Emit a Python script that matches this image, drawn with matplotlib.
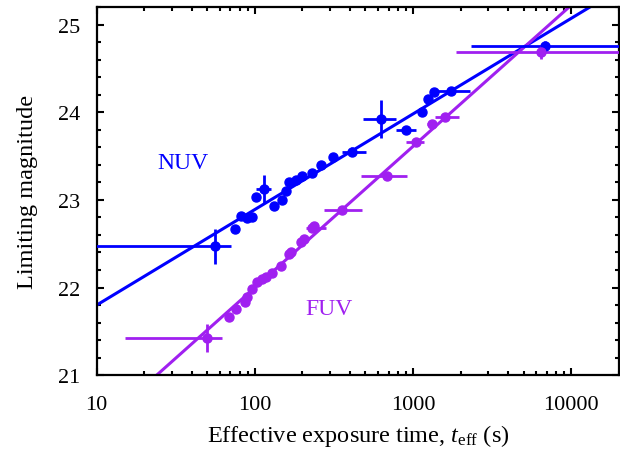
import numpy as np
import matplotlib
matplotlib.use("Agg")
import matplotlib.pyplot as plt
from matplotlib.ticker import LogLocator, MultipleLocator

plt.rcParams['font.family'] = ['Liberation Serif', 'DejaVu Serif']
plt.rcParams['mathtext.fontset'] = 'custom'
plt.rcParams['mathtext.rm'] = 'Liberation Serif'
plt.rcParams['mathtext.it'] = 'Liberation Serif:italic'

# ---- NUV data ----
nuv_t = [56, 75, 82, 89, 96, 102, 114, 132, 148, 157, 164, 182, 198, 229, 262,
         313, 410, 625, 898, 1133, 1250, 1350, 1750, 6840]
nuv_m = [22.47, 22.67, 22.82, 22.79, 22.81, 23.03, 23.12, 22.93, 23.00, 23.10,
         23.20, 23.23, 23.27, 23.31, 23.40, 23.49, 23.55, 23.92, 23.80, 24.00,
         24.15, 24.23, 24.24, 24.75]
nuv_tlo = [5, 75, 82, 89, 96, 102, 101, 132, 148, 157, 164, 182, 198, 229, 262,
           313, 355, 486, 780, 1133, 1250, 1350, 1350, 2340]
nuv_thi = [71, 75, 82, 89, 96, 102, 127, 132, 148, 157, 164, 182, 198, 229, 262,
           313, 503, 780, 1050, 1133, 1250, 1350, 2300, 1e6]
nuv_merr = [0.20, 0, 0, 0, 0, 0, 0.16, 0, 0, 0, 0, 0, 0, 0, 0,
            0, 0.05, 0.22, 0, 0, 0, 0, 0, 0.06]

# ---- FUV data ----
fuv_t = [50, 69, 76, 86, 89, 96, 103, 111, 118, 128, 146, 164, 169, 196, 205,
         229, 236, 355, 683, 1038, 1310, 1600, 6450]
fuv_m = [21.42, 21.66, 21.75, 21.84, 21.89, 21.98, 22.06, 22.10, 22.12, 22.17,
         22.25, 22.38, 22.41, 22.52, 22.55, 22.68, 22.70, 22.89, 23.27, 23.66,
         23.86, 23.95, 24.69]
fuv_tlo = [15, 69, 76, 86, 89, 96, 103, 111, 118, 128, 146, 164, 169, 196, 205,
           210, 236, 273, 468, 900, 1230, 1380, 1880]
fuv_thi = [62, 69, 76, 86, 89, 96, 103, 111, 118, 128, 146, 164, 169, 196, 205,
           280, 236, 475, 910, 1170, 1400, 1940, 1e6]
fuv_merr = [0.16, 0, 0, 0, 0, 0, 0, 0, 0, 0, 0, 0, 0, 0, 0,
            0, 0, 0.04, 0.03, 0, 0, 0, 0.08]

# ---- fit lines: m = a + b*log10(t) ----
nuv_fit = (20.71, 1.09)
fuv_fit = (18.78, 1.61)

NUV_C = '#0000ff'
FUV_C = '#a020f0'

fig = plt.figure(figsize=(6.2, 4.56), dpi=100)
ax = fig.add_axes([0.156, 0.175, 0.842, 0.8075])

tt = np.logspace(0, 5, 400)
for fit, c in [(nuv_fit, NUV_C), (fuv_fit, FUV_C)]:
    ax.plot(tt, fit[0] + fit[1] * np.log10(tt), color=c, lw=2.2, zorder=2)

for t, m, lo, hi, me, c in [(nuv_t, nuv_m, nuv_tlo, nuv_thi, nuv_merr, NUV_C),
                            (fuv_t, fuv_m, fuv_tlo, fuv_thi, fuv_merr, FUV_C)]:
    t = np.array(t, float); m = np.array(m, float)
    xerr = [t - np.array(lo, float), np.array(hi, float) - t]
    ax.errorbar(t, m, xerr=xerr, yerr=me, fmt='o', color=c, ms=6.5,
                elinewidth=2.0, capsize=0, zorder=3)

ax.text(35, 23.43, 'NUV', color=NUV_C, fontsize=17, ha='center', va='center')
ax.text(294, 21.76, 'FUV', color=FUV_C, fontsize=17, ha='center', va='center')

ax.set_xscale('log')
ax.set_xlim(10, 20000)
ax.set_ylim(21, 25.2)
ax.set_xticks([10, 100, 1000, 10000])
ax.set_xticklabels(['10', '100', '1000', '10000'])
ax.xaxis.set_minor_locator(LogLocator(base=10, subs=np.arange(2, 10), numticks=20))
ax.xaxis.set_minor_formatter(matplotlib.ticker.NullFormatter())
ax.set_yticks([21, 22, 23, 24, 25])
ax.yaxis.set_minor_locator(MultipleLocator(0.2))

ax.tick_params(which='both', direction='in', top=True, right=True,
               labelsize=16, width=1.5)
ax.tick_params(axis='x', which='both', pad=14)
ax.tick_params(axis='y', which='both', pad=12)
ax.tick_params(which='major', length=5)
ax.tick_params(which='minor', length=3)
for s in ax.spines.values():
    s.set_linewidth(1.6)

ax.set_xlabel(r'Effective exposure time, $t_{\rm eff}$ (s)', fontsize=17.5, labelpad=6)
ax.set_ylabel('Limiting magnitude', fontsize=17.5, labelpad=14)

fig.savefig('out.png', dpi=100)
